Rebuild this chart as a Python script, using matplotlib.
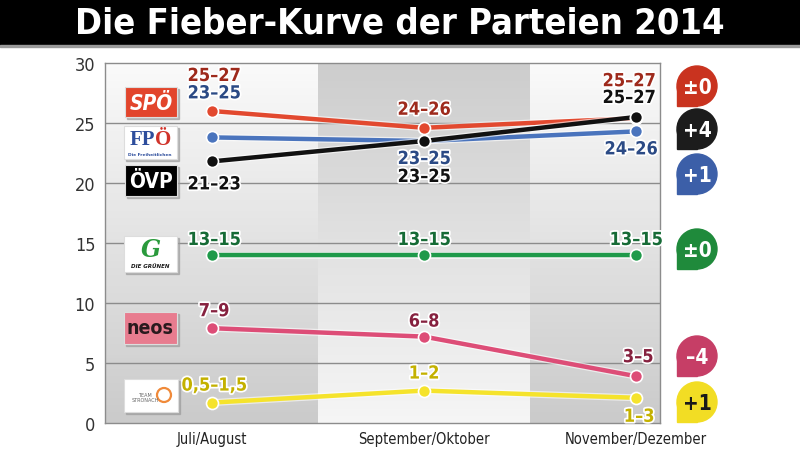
import numpy as np
import matplotlib
matplotlib.use("Agg")
import matplotlib.pyplot as plt
import matplotlib.patheffects as pe
from matplotlib.patches import Rectangle, Circle
from matplotlib.colors import LinearSegmentedColormap

# data
months = ["Juli/August", "September/Oktober", "November/Dezember"]
spoe = [26.0, 24.6, 25.4]
fpoe = [23.8, 23.5, 24.3]
oevp = [21.8, 23.5, 25.5]
gruene = [14.0, 14.0, 14.0]
neos = [7.9, 7.2, 3.9]
stronach = [1.7, 2.7, 2.1]

spoe_lbl = ["25–27", "24–26", "25–27"]
fpoe_lbl = ["23–25", "23–25", "24–26"]
oevp_lbl = ["21–23", "23–25", "25–27"]
gruene_lbl = ["13–15", "13–15", "13–15"]
neos_lbl = ["7–9", "6–8", "3–5"]
stronach_lbl = ["0,5–1,5", "1–2", "1–3"]

changes = ["±0", "+4", "+1", "±0", "–4", "+1"]

FONT = dict(family="DejaVu Sans", stretch="condensed")

parties = [
    # values, labels, line colour, label colour, label offsets (px)
    (spoe, spoe_lbl, "#e2492f", "#9e2a1c", [(2, 35), (0, 18), (-7, 37)]),
    (fpoe, fpoe_lbl, "#4a74bd", "#2b4a85", [(2, 44), (0, -18), (-5, -18)]),
    (oevp, oevp_lbl, "#111111", "#111111", [(2, -23), (0, -36), (-7, 19)]),
    (gruene, gruene_lbl, "#1f9a4a", "#166b36", [(2, 15), (0, 15), (0, 15)]),
    (neos, neos_lbl, "#dd4d77", "#86213f", [(2, 17), (0, 15), (2, 19)]),
    (stronach, stronach_lbl, "#f5e32c", "#c4b100", [(2, 17), (0, 17), (3, -19)]),
]

fig = plt.figure(figsize=(8, 4.52), dpi=100)
fig.patch.set_facecolor("white")

ax = fig.add_axes([105 / 800, 1 - 424 / 452, 555 / 800, 360 / 452])
x = np.arange(len(months))
xl = (-0.505, 2.113)

# shaded column bands with vertical gradients (0 = light, 1 = grey)
shade = LinearSegmentedColormap.from_list("s", ["#fafafa", "#cbcbcb"])
grad = np.linspace(0, 1, 100).reshape(-1, 1)
ax.imshow(1 - grad, cmap=shade, vmin=0, vmax=1, aspect="auto",
          extent=(xl[0], 0.5, 0, 30), origin="lower", zorder=0)
ax.imshow(0.1 + 0.85 * grad, cmap=shade, vmin=0, vmax=1, aspect="auto",
          extent=(0.5, 1.5, 0, 30), origin="lower", zorder=0)
ax.imshow(1 - grad, cmap=shade, vmin=0, vmax=1, aspect="auto",
          extent=(1.5, xl[1], 0, 30), origin="lower", zorder=0)
ax.set_xlim(*xl)
ax.set_ylim(0, 30)

for yv in range(5, 30, 5):
    ax.axhline(yv, color="#8c8c8c", lw=1, zorder=1)

for vals, lbls, col, tcol, offs in parties:
    ax.plot(x, vals, color=col, lw=3.2, solid_capstyle="round", zorder=3,
            path_effects=[pe.Stroke(linewidth=5, foreground="white", alpha=0.6), pe.Normal()])
    ax.scatter(x, vals, s=75, color=col, edgecolor="white", linewidth=1.2, zorder=4)
    for xi, v, t, (dx, dy) in zip(x, vals, lbls, offs):
        ax.annotate(t, (xi, v), xytext=(dx, dy), textcoords="offset pixels",
                    ha="center", va="center", fontsize=13, fontweight="bold",
                    color=tcol, zorder=5, **FONT,
                    path_effects=[pe.withStroke(linewidth=2.5, foreground="white")])

ax.set_xticks(x)
ax.set_xticklabels(months, fontsize=10.5, color="#222222", **FONT)
ax.set_yticks(range(0, 31, 5))
ax.set_yticklabels([str(v) for v in range(0, 31, 5)], fontsize=13, color="#333333", **FONT)
ax.tick_params(axis="y", length=0, pad=7)
ax.tick_params(axis="x", length=0, pad=6)
for s in ax.spines.values():
    s.set_color("#8c8c8c")
    s.set_linewidth(1)

# decoration layer in pixel coordinates
deco = fig.add_axes([0, 0, 1, 1], zorder=10)
deco.set_xlim(0, 800)
deco.set_ylim(452, 0)
deco.axis("off")
deco.patch.set_alpha(0)

deco.add_patch(Rectangle((0, 0), 800, 47, color="black"))
deco.add_patch(Rectangle((0, 46), 800, 2, color="#9a9a9a"))
deco.text(400, 24, "Die Fieber-Kurve der Parteien 2014", color="white",
          fontsize=26, fontweight="bold", ha="center", va="center", **FONT)

# party logos
def logo(x0, y0, w, h, face):
    deco.add_patch(Rectangle((x0 + 2, y0 + 2), w, h, color="#9a9a9a", alpha=0.6))
    deco.add_patch(Rectangle((x0, y0), w, h, facecolor=face, edgecolor="#dddddd", lw=0.8))

logo(125, 88, 52, 30, "#e2452c")
deco.text(151, 104, "SPÖ", color="white", fontsize=15, fontweight="bold",
          style="italic", ha="center", va="center", **FONT)

logo(124, 127, 53, 33, "white")
deco.text(142, 140, "FP", color="#2d4d9c", fontsize=15, fontweight="bold",
          family="Liberation Serif", ha="center", va="center")
deco.text(163, 140, "Ö", color="#d0332a", fontsize=15, fontweight="bold",
          family="Liberation Serif", ha="center", va="center")
deco.text(150, 155, "Die Freiheitlichen", color="#2d4d9c", fontsize=3.2,
          fontweight="bold", ha="center", va="center")

logo(125, 166, 52, 31, "black")
deco.text(151, 182, "ÖVP", color="white", fontsize=15, fontweight="bold",
          ha="center", va="center", **FONT)

logo(124, 237, 53, 36, "white")
deco.text(151, 250, "G", color="#2a9a3c", fontsize=17, fontweight="bold",
          style="italic", family="DejaVu Serif", ha="center", va="center")
deco.text(150, 267, "DIE GRÜNEN", color="#1a1a1a", fontsize=4, fontweight="bold",
          style="italic", ha="center", va="center")

logo(124, 313, 53, 32, "#e87c8f")
deco.text(150, 329, "neos", color="#2a1a1e", fontsize=14, fontweight="bold",
          ha="center", va="center", **FONT)

logo(124, 380, 54, 33, "white")
deco.text(145, 398, "TEAM\nSTRONACH", color="#666666", fontsize=3.5,
          ha="center", va="center", linespacing=1.1)
deco.add_patch(Circle((164, 396), 7, facecolor="none", edgecolor="#f08a3a", lw=1.6))

# change badges
badge_cols = ["#c9331f", "#1c1c1c", "#3c5fa8", "#1f8a3b", "#c63e66", "#f2dd24"]
badge_txt = ["white", "white", "white", "white", "white", "#1a1a1a"]
badge_y = [87, 130, 175, 250, 357, 403]
for c, tc, by, ch in zip(badge_cols, badge_txt, badge_y, changes):
    deco.add_patch(Circle((697, by), 20, color=c))
    deco.add_patch(Rectangle((677, by), 20, 20, color=c))
    deco.text(697, by + 1, ch, color=tc, fontsize=15, fontweight="bold",
              ha="center", va="center", **FONT)

fig.savefig("out.png", dpi=100)
